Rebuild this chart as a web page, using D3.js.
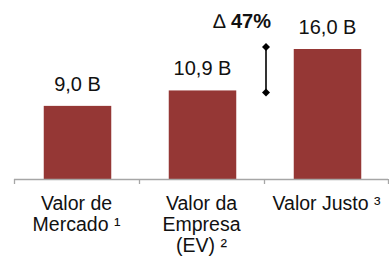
<!DOCTYPE html>
<html>
<head>
<meta charset="utf-8">
<script src="https://cdn.jsdelivr.net/npm/d3@7"></script>
<style>
  html, body { margin: 0; padding: 0; background: #fff; }
  svg { display: block; }
  text { font-family: "Liberation Sans", Arial, sans-serif; fill: #111; }
</style>
</head>
<body>
<svg id="chart" width="389" height="259"></svg>
<script>
const categories = ["Valor de Mercado ¹", "Valor da Empresa (EV) ²", "Valor Justo ³"];
const categoryLines = [["Valor de", "Mercado ¹"], ["Valor da", "Empresa", "(EV) ²"], ["Valor Justo ³"]];
const values = [9.0, 10.9, 16.0];
const valueLabels = ["9,0 B", "10,9 B", "16,0 B"];
const deltaSymbol = "\u2206 ";
const deltaValue = "47%";

const svg = d3.select("#chart");
const barColor = "#953735";

const x = d3.scaleBand().domain(categories).range([14, 389]).paddingInner(0.46).paddingOuter(0.23);
const xOuter = d3.scaleBand().domain(categories).range([14, 389]).padding(0);
const y = d3.scaleLinear().domain([0, 16]).range([179, 49]);

// bars
svg.selectAll("rect.bar").data(values).join("rect")
  .attr("class", "bar")
  .attr("x", (d, i) => x(categories[i]) + 1)
  .attr("width", x.bandwidth())
  .attr("y", d => y(d))
  .attr("height", d => y(0) - y(d))
  .attr("fill", barColor);

// value labels
svg.selectAll("text.val").data(values).join("text")
  .attr("class", "val")
  .attr("x", (d, i) => x(categories[i]) + 1 + x.bandwidth() / 2)
  .attr("y", d => y(d) - 15)
  .attr("text-anchor", "middle")
  .attr("font-size", 20)
  .text((d, i) => valueLabels[i]);

// axis
const axisG = svg.append("g").attr("transform", `translate(0,${y(0)})`);
axisG.append("line")
  .attr("x1", xOuter.range()[0]).attr("x2", xOuter.range()[1] - 1)
  .attr("y1", 0.5).attr("y2", 0.5)
  .attr("stroke", "#a6a6a6").attr("stroke-width", 1.3);
const boundaries = categories.map(c => xOuter(c)).concat([xOuter.range()[1] - 1]);
axisG.selectAll("line.tick").data(boundaries).join("line")
  .attr("class", "tick")
  .attr("x1", d => d + 0.5).attr("x2", d => d + 0.5)
  .attr("y1", 0).attr("y2", 5)
  .attr("stroke", "#a6a6a6").attr("stroke-width", 1.3);

// category labels (one text element per line)
categoryLines.forEach((lines, i) => {
  const cx = xOuter(categories[i]) + xOuter.bandwidth() / 2;
  lines.forEach((ln, j) => {
    axisG.append("text")
      .attr("text-anchor", "middle")
      .attr("font-size", 19.5)
      .attr("x", cx)
      .attr("y", 31 + j * 21)
      .text(ln);
  });
});

// delta arrow between bar 2 and bar 3 tops
const ax = xOuter(categories[2]) + 2;
svg.append("line")
  .attr("x1", ax).attr("x2", ax)
  .attr("y1", y(values[2]) - 2).attr("y2", y(values[1]) + 2)
  .attr("stroke", "#000").attr("stroke-width", 1.6);
[y(values[2]) - 2, y(values[1]) + 2].forEach(cy => {
  svg.append("path")
    .attr("d", `M${ax},${cy - 4} L${ax + 4},${cy} L${ax},${cy + 4} L${ax - 4},${cy} Z`)
    .attr("fill", "#000");
});

// delta label
const dt = svg.append("text")
  .attr("x", ax + 5).attr("y", 28)
  .attr("text-anchor", "end")
  .attr("font-size", 20);
dt.append("tspan").text(deltaSymbol);
dt.append("tspan").attr("font-weight", "bold").text(deltaValue);
</script>
</body>
</html>
